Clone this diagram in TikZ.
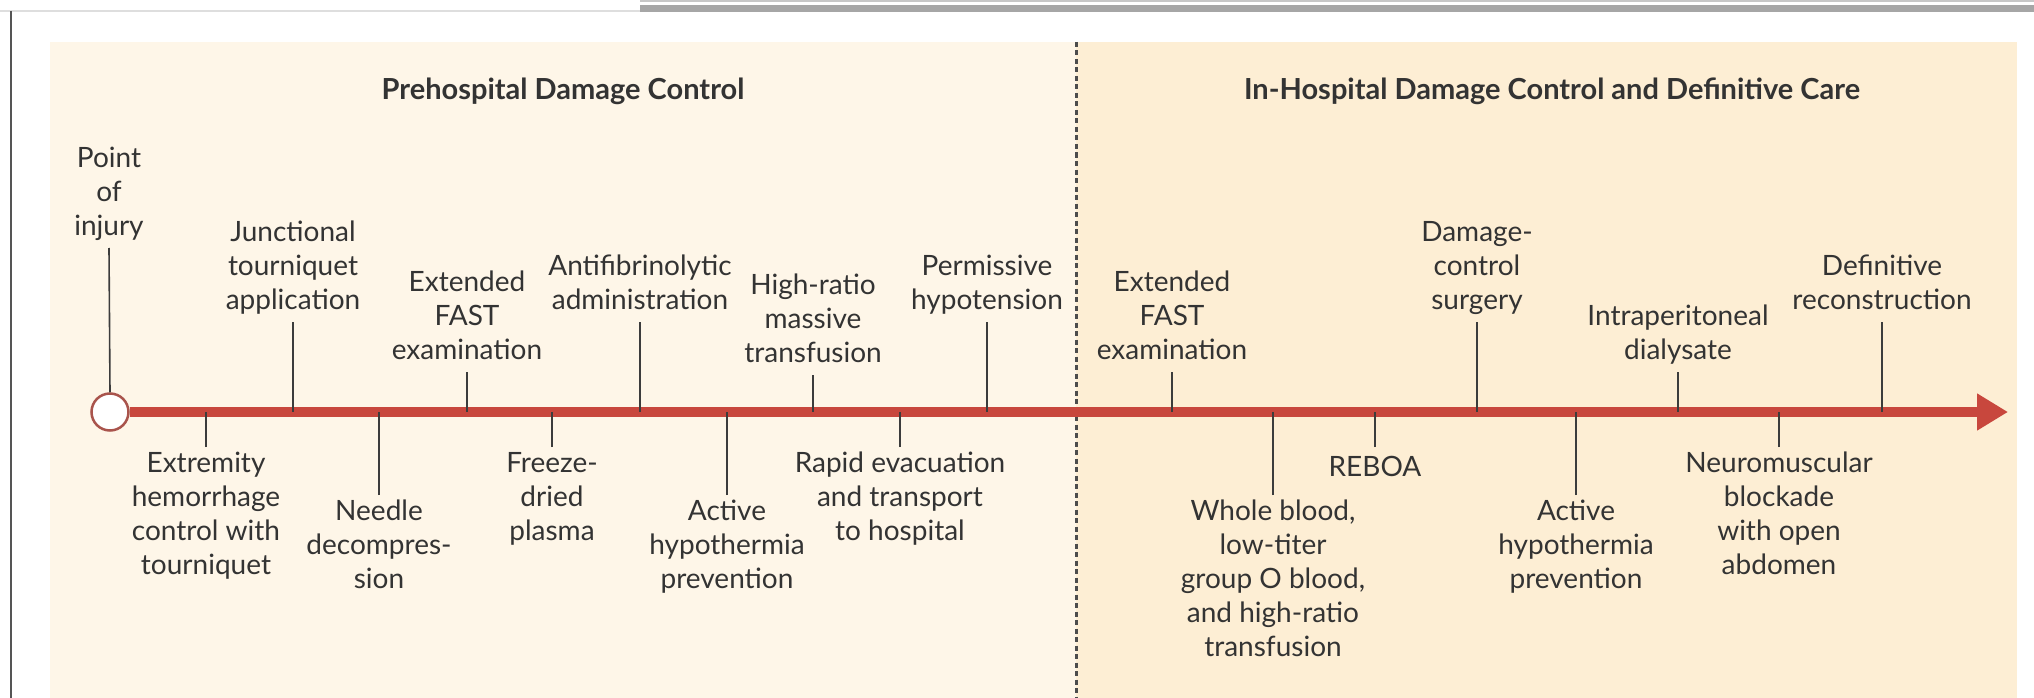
\documentclass[tikz,border=0pt]{standalone}
\usepackage{fontspec}
\setmainfont{Lato}
\usetikzlibrary{arrows.meta}
\definecolor{leftbg}{HTML}{FEF6E8}
\definecolor{rightbg}{HTML}{FDEED4}
\definecolor{tlred}{HTML}{C8473D}
\definecolor{circred}{HTML}{A9544C}
\definecolor{txt}{HTML}{333333}
\definecolor{tickc}{HTML}{3C3C3C}
\definecolor{framec}{HTML}{555555}
\tikzset{
  lbl/.style={align=center, text=txt, font=\fontsize{28}{34}\selectfont, inner xsep=0pt,
    execute at begin node=\strut, execute at end node=\strut},
  lblup/.style={lbl, anchor=south, inner ysep=2pt},
  lbldn/.style={lbl, anchor=north, inner ysep=5pt},
  tickln/.style={draw=tickc, line width=1.6pt},
  ttl/.style={font=\fontsize{29}{34}\selectfont\bfseries, text=txt, anchor=base, inner sep=0pt},
}
\begin{document}
\begin{tikzpicture}[x=1pt,y=-1pt]
\useasboundingbox (0,0) rectangle (2034,698);
% frame
\fill[white] (0,0) rectangle (2034,698);
\draw[draw=black!13, line width=2pt] (0,11.5) -- (640,11.5);
\fill[black!35] (640,5) rectangle (2034,12);
\draw[draw=black!22, line width=1.5pt] (640,1) -- (2034,1);
\draw[draw=framec, line width=2.5pt] (11,11) -- (11,698);
% panels
\fill[leftbg] (50,42) rectangle (1076,698);
\fill[rightbg] (1076,42) rectangle (2017,698);
\draw[draw=black!70, line width=3pt, dash pattern=on 5pt off 3.5pt] (1076,42) -- (1076,698);
% titles
\node[ttl] (t1) at (563,100) {Prehospital Damage Control};
\node[ttl] (t2) at (1552,100) {In-Hospital Damage Control and Definitive Care};
% timeline
\coordinate (tl) at (0,412);
\coordinate (tip) at (2008,412);
\node[circle, draw=circred, line width=2.5pt, fill=white, minimum size=37pt, inner sep=0pt] (poi) at (110,412) {};
\draw[draw=tlred, line width=10pt, -{Triangle[length=31pt,width=35pt]}] (poi.east) -- (tip);
% labels above
\node[lblup] (a0) at (109,248) {Point\\of\\injury};
\node[lblup] (a1) at (293,322) {Junctional\\tourniquet\\application};
\node[lblup] (a2) at (467,372) {Extended\\FAST\\examination};
\node[lblup] (a3) at (640,322) {Antifibrinolytic\\administration};
\node[lblup] (a4) at (813,375) {High-ratio\\massive\\transfusion};
\node[lblup] (a5) at (987,322) {Permissive\\hypotension};
\node[lblup] (a6) at (1172,372) {Extended\\FAST\\examination};
\node[lblup] (a7) at (1477,322) {Damage-\\control\\surgery};
\node[lblup] (a8) at (1678,372) {Intraperitoneal\\dialysate};
\node[lblup] (a9) at (1882,322) {Definitive\\reconstruction};
% labels below
\node[lbldn] (b1) at (206,447) {Extremity\\hemorrhage\\control with\\tourniquet};
\node[lbldn] (b2) at (379,495) {Needle\\decompres-\\sion};
\node[lbldn] (b3) at (552,447) {Freeze-\\dried\\plasma};
\node[lbldn] (b4) at (727,495) {Active\\hypothermia\\prevention};
\node[lbldn] (b5) at (900,447) {Rapid evacuation\\and transport\\to hospital};
\node[lbldn] (b6) at (1273,495) {Whole blood,\\low-titer\\group O blood,\\and high-ratio\\transfusion};
\node[lbldn] (b7) at (1375,447) {REBOA};
\node[lbldn] (b8) at (1576,495) {Active\\hypothermia\\prevention};
\node[lbldn] (b9) at (1779,447) {Neuromuscular\\blockade\\with open\\abdomen};
% ticks
\draw[tickln] (a0.south) -- (poi.north);
\foreach \n in {a1,a2,a3,a4,a5,a6,a7,a8,a9}{
  \draw[tickln] (\n.south) -- (\n.south |- tl);
}
\foreach \n in {b1,b2,b3,b4,b5,b6,b7,b8,b9}{
  \draw[tickln] (\n.north) -- (\n.north |- tl);
}
\end{tikzpicture}
\end{document}
